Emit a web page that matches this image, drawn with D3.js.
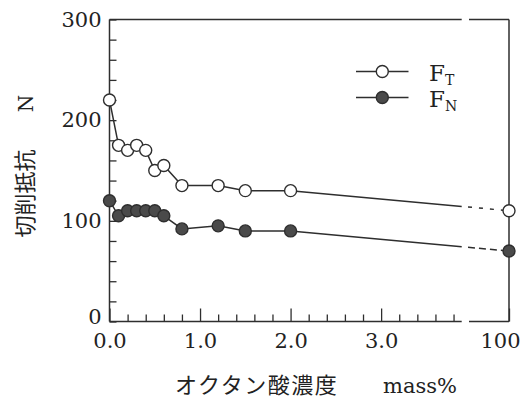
<!DOCTYPE html>
<html><head><meta charset="utf-8">
<script src="https://cdn.jsdelivr.net/npm/d3@7"></script>
<style>
html,body{margin:0;padding:0;background:#fff;}
svg{display:block;}
</style></head>
<body>
<svg id="c" width="524" height="412"></svg>
<script>
// Data
const concentration = [0.0, 0.1, 0.2, 0.3, 0.4, 0.5, 0.6, 0.8, 1.2, 1.5, 2.0, 100];
const FT = [220, 175, 170, 175, 170, 150, 155, 135, 135, 130, 130, 110];
const FN = [120, 105, 110, 110, 110, 110, 105, 92, 95, 90, 90, 70];
const xTickValues = [0, 1, 2, 3, 100];
const xTickLabels = ["0.0", "1.0", "2.0", "3.0", "100"];
const yTickValues = [0, 100, 200, 300];
const seriesNames = ["T", "N"];

const svg = d3.select("#c");
const ink = "#2e2e2e";
const L = 109.5, R = 509, T = 19.5, B = 321.5;
const breakA = 3.89, breakB = 3.97;

const x = d3.scaleLinear().domain([0, breakA, breakB, 100]).range([L, 461.7, 469, R]);
const y = d3.scaleLinear().domain([0, 300]).range([B, T]);

// Frame
const fr = svg.append("g").attr("stroke", ink).attr("stroke-width", 1.5).attr("fill", "none");
fr.append("line").attr("x1", L).attr("x2", L).attr("y1", T).attr("y2", B);
fr.append("line").attr("x1", R).attr("x2", R).attr("y1", T).attr("y2", B);
[T, B].forEach(yy => {
  fr.append("line").attr("x1", L).attr("x2", x(breakA)).attr("y1", yy).attr("y2", yy);
  fr.append("line").attr("x1", x(breakB)).attr("x2", R).attr("y1", yy).attr("y2", yy);
});

// Left axis ticks (inward) every 20
const ya = svg.append("g").attr("transform", `translate(${L},0)`)
  .call(d3.axisLeft(y).tickValues(d3.range(0, 301, 20)).tickSize(-7).tickPadding(8)
    .tickFormat(v => yTickValues.includes(v) ? String(v) : ""));
ya.select(".domain").remove();
ya.selectAll(".tick line").attr("stroke", ink).attr("stroke-width", 1.3);
ya.selectAll(".tick text").attr("font-family", "DejaVu Serif").attr("font-size", 21).attr("fill", "#222");
ya.selectAll(".tick").filter(v => v === 0).select("text").attr("dy", "0.1em");

// Bottom minor ticks
const xm = svg.append("g").attr("transform", `translate(0,${B})`)
  .call(d3.axisBottom(x).tickValues(d3.range(0.2, 3.81, 0.2).filter(v => Math.abs(v - Math.round(v)) > 0.01))
    .tickSize(-7).tickFormat(""));
xm.select(".domain").remove();
xm.selectAll(".tick line").attr("stroke", ink).attr("stroke-width", 1.3);

// Bottom major ticks + labels
const xa = svg.append("g").attr("transform", `translate(0,${B})`)
  .call(d3.axisBottom(x).tickValues(xTickValues).tickSize(-13).tickPadding(12)
    .tickFormat((v, i) => xTickLabels[i]));
xa.select(".domain").remove();
xa.selectAll(".tick line").attr("stroke", ink).attr("stroke-width", 1.3);
xa.selectAll(".tick text").attr("font-family", "DejaVu Serif").attr("font-size", 21).attr("fill", "#222");
xa.selectAll(".tick").filter(v => v === 100).select("text").attr("dx", -9);

// Series
function drawSeries(vals, filled, dash) {
  const pts = concentration.map((c, i) => [x(c), y(vals[i])]);
  const main = pts.slice(0, pts.length - 1);
  const p2 = main[main.length - 1], pe = pts[pts.length - 1];
  const interp = xx => [xx, p2[1] + (pe[1] - p2[1]) * (xx - p2[0]) / (pe[0] - p2[0])];
  const a = interp(x(breakA)), b = interp(x(breakB) - 1);
  const line = d3.line();
  svg.append("path").attr("d", line(main.concat([a]))).attr("fill", "none")
    .attr("stroke", ink).attr("stroke-width", 1.5);
  svg.append("path").attr("d", line([b, pe])).attr("fill", "none")
    .attr("stroke", ink).attr("stroke-width", 1.5).attr("stroke-dasharray", dash);
  svg.append("g").selectAll("circle").data(pts).join("circle")
    .attr("cx", d => d[0]).attr("cy", d => d[1]).attr("r", 6)
    .attr("fill", filled ? "#4a4a4a" : "#fff").attr("stroke", ink).attr("stroke-width", 1.4);
}
drawSeries(FN, true, "7,4");
drawSeries(FT, false, "4,7");

// Legend
const leg = [{ y: 71.5, filled: false }, { y: 97.5, filled: true }];
leg.forEach((d, i) => {
  svg.append("line").attr("x1", 356).attr("x2", 408.5).attr("y1", d.y).attr("y2", d.y)
    .attr("stroke", ink).attr("stroke-width", 1.5);
  svg.append("circle").attr("cx", 382.3).attr("cy", d.y).attr("r", 6)
    .attr("fill", d.filled ? "#4a4a4a" : "#fff").attr("stroke", ink).attr("stroke-width", 1.4);
  const t = svg.append("text").attr("x", 429).attr("y", d.y + 9.5)
    .attr("font-family", "DejaVu Serif").attr("font-size", 23).attr("fill", "#222");
  t.append("tspan").text("F");
  t.append("tspan").attr("dy", 4).attr("font-size", 14).text(seriesNames[i]);
});

// Axis titles
svg.append("text").attr("transform", "translate(33,193.5) rotate(-90)")
  .attr("text-anchor", "middle").attr("font-family", "Noto Sans CJK JP").attr("font-size", 22)
  .attr("fill", "#222").text("切削抵抗");
svg.append("text").attr("transform", "translate(33,103.5) rotate(-90)")
  .attr("text-anchor", "middle").attr("font-family", "DejaVu Serif").attr("font-size", 20)
  .attr("fill", "#222").text("N");
svg.append("text").attr("x", 175).attr("y", 393)
  .attr("font-family", "Noto Sans CJK JP").attr("font-size", 22).attr("letter-spacing", 1.5)
  .attr("fill", "#222").text("オクタン酸濃度");
svg.append("text").attr("x", 383).attr("y", 393)
  .attr("font-family", "DejaVu Serif").attr("font-size", 21)
  .attr("fill", "#222").text("mass%");
</script>
</body></html>
